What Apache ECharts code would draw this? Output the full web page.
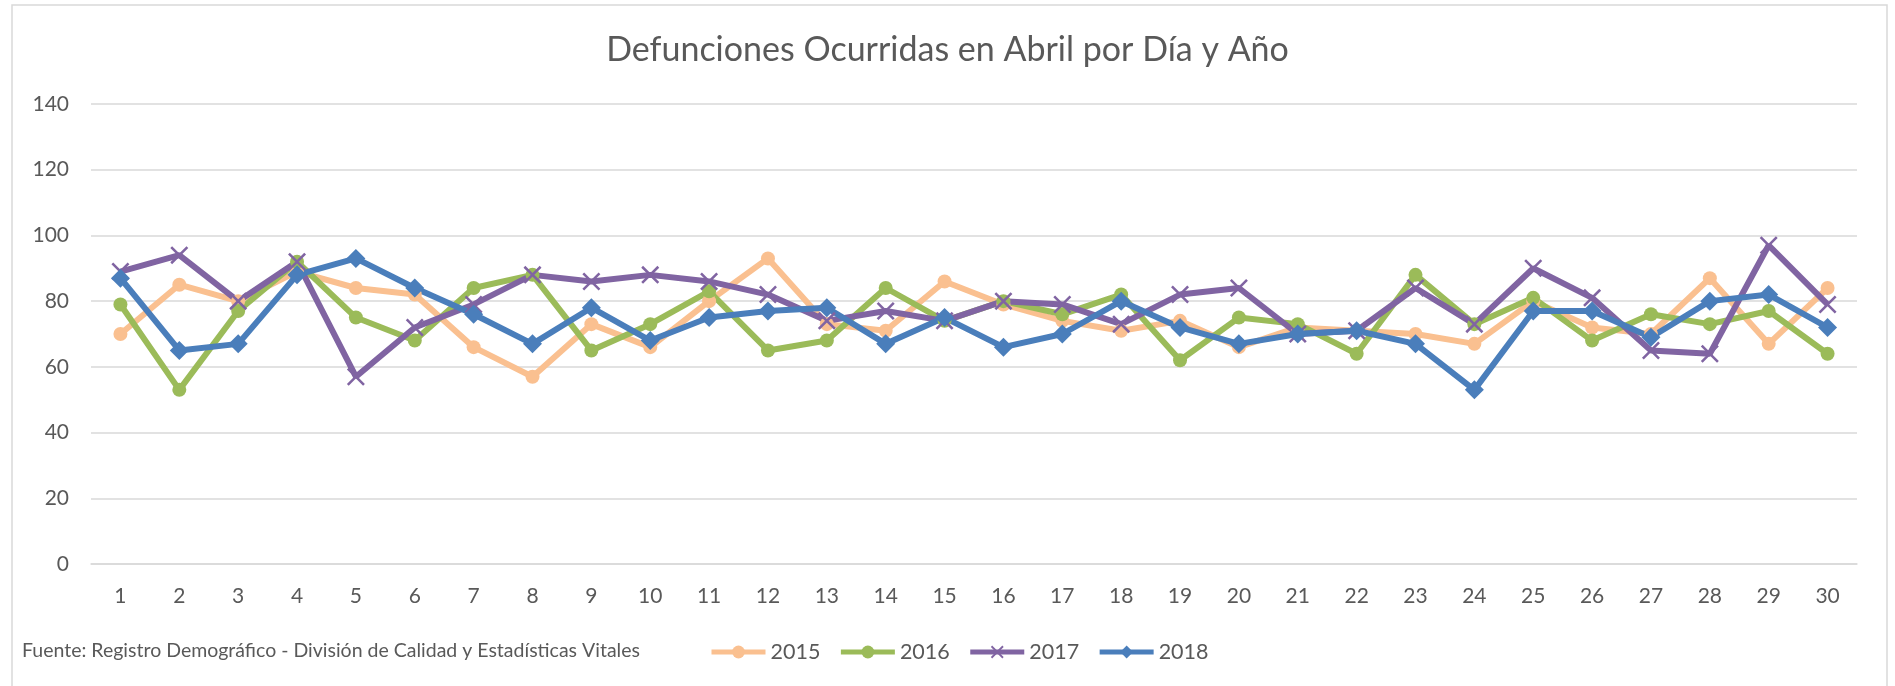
<!DOCTYPE html>
<html>
<head>
<meta charset="utf-8">
<script src="https://cdn.jsdelivr.net/npm/echarts@6/dist/echarts.min.js"></script>
<style>
  html, body { margin: 0; padding: 0; background: #fff; }
  #chart { width: 1895px; height: 686px; }
</style>
</head>
<body>
<div id="chart"></div>
<script>
// días del mes de abril
const days = ['1','2','3','4','5','6','7','8','9','10','11','12','13','14','15','16','17','18','19','20','21','22','23','24','25','26','27','28','29','30'];
const yTicks = [0, 20, 40, 60, 80, 100, 120, 140];

const y2015 = [70, 85, 80, 89, 84, 82, 66, 57, 73, 66, 80, 93, 73, 71, 86, 79, 74, 71, 74, 66, 72, 71, 70, 67, 80, 72, 70, 87, 67, 84];
const y2016 = [79, 53, 77, 92, 75, 68, 84, 88, 65, 73, 83, 65, 68, 84, 74, 80, 76, 82, 62, 75, 73, 64, 88, 73, 81, 68, 76, 73, 77, 64];
const y2017 = [89, 94, 80, 92, 57, 72, 79, 88, 86, 88, 86, 82, 74, 77, 74, 80, 79, 73, 82, 84, 70, 71, 84, 73, 90, 81, 65, 64, 97, 79];
const y2018 = [87, 65, 67, 88, 93, 84, 76, 67, 78, 68, 75, 77, 78, 67, 75, 66, 70, 80, 72, 67, 70, 71, 67, 53, 77, 77, 69, 80, 82, 72];

const years = ['2015', '2016', '2017', '2018'];
const colors = ['#FAC090', '#9BBB59', '#8064A2', '#4A7EBB'];

// símbolo en forma de X (para 2017)
const crossPath = 'path://M0,1 L1,0 L10,9 L9,10 Z M9,0 L10,1 L1,10 L0,9 Z';

const textColor = '#595959';
const font = 'Lato, "Open Sans", sans-serif';

const chart = echarts.init(document.getElementById('chart'));

const makeSeries = (name, data, color, symbol, size) => ({
  name: name,
  type: 'line',
  data: data,
  symbol: symbol,
  symbolSize: size,
  showAllSymbol: true,
  lineStyle: { color: color, width: 6 },
  itemStyle: { color: color },
  emphasis: { disabled: true },
  animation: false,
});

const option = {
  backgroundColor: '#fff',
  textStyle: { fontFamily: font },
  title: {
    text: 'Defunciones Ocurridas en Abril por Día y Año',
    left: 'center',
    top: 28,
    textStyle: { color: textColor, fontSize: 34, fontWeight: 'normal', fontFamily: font },
  },
  graphic: [
    {
      type: 'rect',
      shape: { x: 12, y: 5, width: 1875, height: 700 },
      style: { fill: 'none', stroke: '#d9d9d9', lineWidth: 1.5 },
      silent: true,
    },
    {
      type: 'text',
      left: 22,
      top: 641,
      style: {
        text: 'Fuente: Registro Demográfico - División de Calidad y Estadísticas Vitales',
        fill: textColor,
        font: '19.5px ' + font,
      },
    },
  ],
  legend: {
    data: years,
    left: 704,
    top: 636,
    itemWidth: 54,
    itemHeight: 16,
    itemGap: 18,
    lineStyle: { width: 5 },
    textStyle: { color: textColor, fontSize: 21.5, fontFamily: font },
  },
  grid: {
    left: 91,
    right: 38,
    top: 104,
    bottom: 122,
    containLabel: false,
  },
  xAxis: {
    type: 'category',
    data: days,
    boundaryGap: true,
    axisLine: { lineStyle: { color: '#d9d9d9', width: 1.5 } },
    axisTick: { show: false },
    axisLabel: { color: textColor, fontSize: 21, margin: 22, fontFamily: font },
  },
  yAxis: {
    type: 'value',
    min: yTicks[0],
    max: yTicks[yTicks.length - 1],
    interval: 20,
    axisLine: { show: false },
    axisTick: { show: false },
    axisLabel: { color: textColor, fontSize: 21, margin: 22, fontFamily: font },
    splitLine: { lineStyle: { color: '#d9d9d9', width: 1.5 } },
  },
  series: [
    makeSeries(years[0], y2015, colors[0], 'circle', 14),
    makeSeries(years[1], y2016, colors[1], 'circle', 14),
    makeSeries(years[2], y2017, colors[2], crossPath, 18),
    makeSeries(years[3], y2018, colors[3], 'diamond', 19),
  ],
};

chart.setOption(option);
window.addEventListener('resize', () => chart.resize());
</script>
</body>
</html>
